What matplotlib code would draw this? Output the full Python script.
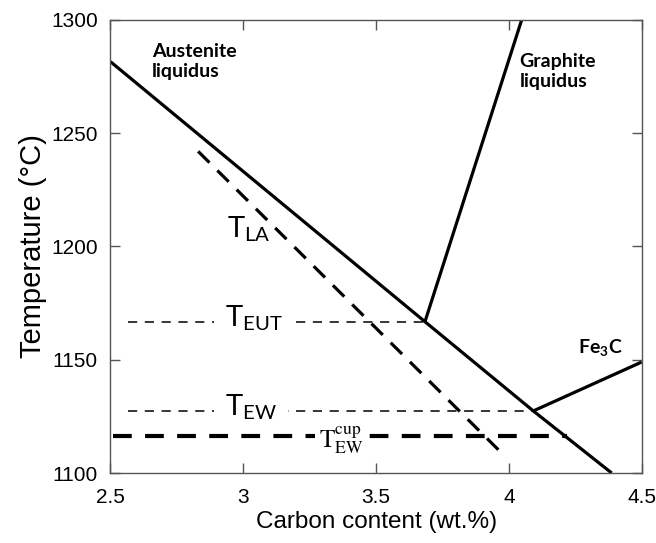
import matplotlib

matplotlib.use("Agg")
import matplotlib.pyplot as plt

# Phase boundaries (wt.% C, degC)
austenite_c = [2.5, 3.684, 4.092, 4.387]
austenite_t = [1281.6, 1166.8, 1127.4, 1100.0]
graphite_c = [3.684, 4.048]
graphite_t = [1166.8, 1300.0]
fe3c_c = [4.092, 4.5]
fe3c_t = [1127.4, 1149.0]

# Dashed reference lines
tla_c = [2.83, 3.973]
tla_t = [1242.0, 1108.8]
t_eut = 1166.8
t_ew = 1127.4
t_ew_cup = 1116.3
eut_c = [2.566, 3.684]
ew_c = [2.566, 4.092]
cup_c = [2.51, 4.22]

plt.rcParams["mathtext.fontset"] = "custom"
plt.rcParams["mathtext.rm"] = "Lato"
plt.rcParams["mathtext.it"] = "Lato:italic"
plt.rcParams["mathtext.bf"] = "Lato:bold"

fig = plt.figure(figsize=(6.56, 5.43), dpi=100)
ax = fig.add_axes([0.1684, 0.1289, 0.8098, 0.8343])

ax.plot(austenite_c, austenite_t, color="black", lw=2.3, solid_capstyle="butt")
ax.plot(graphite_c, graphite_t, color="black", lw=2.3, solid_capstyle="butt")
ax.plot(fe3c_c, fe3c_t, color="black", lw=2.3, solid_capstyle="butt")

ax.plot(tla_c, tla_t, color="black", lw=2.3, dashes=(5, 3.5))
ax.plot(eut_c, [t_eut, t_eut], color="black", lw=1.1, dashes=(6, 5))
ax.plot(ew_c, [t_ew, t_ew], color="black", lw=1.1, dashes=(6, 5))
ax.plot(cup_c, [t_ew_cup, t_ew_cup], color="black", lw=3.0, dashes=(4.5, 3.2),
        zorder=4)

box = dict(facecolor="white", edgecolor="none", pad=8)
ax.text(3.02, 1204, r"$\mathrm{T}_{\mathrm{LA}}$", fontsize=21, ha="center",
        va="baseline")
ax.text(3.04, 1164.5, r"$\mathrm{T}_{\mathrm{EUT}}$", fontsize=21, ha="center",
        va="baseline", bbox=box)
ax.text(3.03, 1125.6, r"$\mathrm{T}_{\mathrm{EW}}$", fontsize=21, ha="center",
        va="baseline", bbox=box)
ax.text(3.37, 1111.3, r"$\mathrm{T}_{\mathrm{EW}}^{\mathrm{cup}}$", fontsize=18,
        ha="center", va="baseline", math_fontfamily="stix", zorder=5,
        bbox=dict(facecolor="white", edgecolor="none", pad=3))

ax.text(2.655, 1290, "Austenite\nliquidus", fontsize=14, fontweight="bold",
        family="Lato", ha="left", va="top", linespacing=1.25)
ax.text(4.04, 1285.5, "Graphite\nliquidus", fontsize=14, fontweight="bold",
        family="Lato", ha="left", va="top", linespacing=1.25)
ax.text(4.43, 1153, r"Fe$_\mathbf{3}$C", fontsize=14, fontweight="bold",
        family="Lato", ha="right", va="baseline")

ax.set_xlim(2.5, 4.5)
ax.set_ylim(1100, 1300)
ax.set_xticks([2.5, 3, 3.5, 4, 4.5])
ax.set_xticklabels(["2.5", "3", "3.5", "4", "4.5"])
ax.set_yticks([1100, 1150, 1200, 1250, 1300])
ax.tick_params(direction="in", top=True, right=True, length=7, width=1,
               labelsize=15, color="#555555")
ax.tick_params(axis="x", pad=11)
ax.tick_params(axis="y", pad=9)
for tl in ax.get_xticklabels() + ax.get_yticklabels():
    tl.set_family("Liberation Sans")
for sp in ax.spines.values():
    sp.set_color("#555555")
    sp.set_linewidth(1.0)

ax.set_xlabel("Carbon content (wt.%)", fontsize=17.5, family="Liberation Sans",
              labelpad=3)
ax.set_ylabel("Temperature (\u00b0C)", fontsize=21, family="Liberation Sans",
              labelpad=3)

fig.savefig("out.png", dpi=100)
